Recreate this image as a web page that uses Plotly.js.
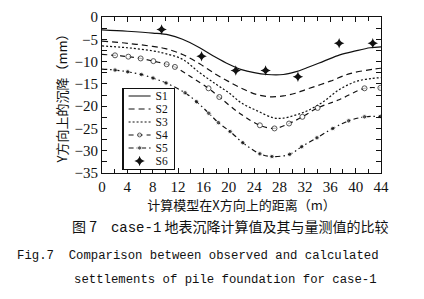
<!DOCTYPE html>
<html>
<head>
<meta charset="utf-8">
<script src="https://cdn.plot.ly/plotly-3.0.1.min.js"></script>
<style>html,body{margin:0;padding:0;background:#fff;}#chart{width:424px;height:299px;}</style>
</head>
<body>
<div id="chart"></div>
<script>
// ---- data ----
const s1x = [0, 4, 8, 10.5, 12.7, 15.4, 18, 20, 22, 24, 26, 28.6, 30.5, 32.3, 35, 37.5, 40, 42.3, 44];
const s1y = [-2.9, -3.2, -3.6, -4.0, -5.0, -6.9, -9.1, -10.6, -11.8, -12.5, -12.9, -12.9, -12.3, -11.4, -9.9, -8.5, -7.6, -6.9, -6.7];

const s2x = [0, 4, 8, 10, 12.7, 15.4, 18, 20, 22, 24.4, 26.5, 28.6, 30.5, 32.3, 36, 39.1, 42.8, 44];
const s2y = [-5.4, -5.9, -6.6, -7.1, -8.4, -10.5, -12.9, -14.5, -16.0, -17.4, -17.9, -17.7, -17.1, -16.2, -14.4, -12.7, -11.7, -11.5];

const s3x = [0, 4, 8, 10, 12.7, 15.4, 18, 20, 22, 24.4, 27, 28.6, 30.5, 32.3, 34.9, 37.5, 40.2, 42.5, 44];
const s3y = [-6.5, -6.9, -7.6, -8.2, -9.5, -12.5, -15.1, -17.0, -19.3, -21.0, -22.6, -22.7, -22.0, -21.1, -19.0, -16.2, -14.4, -13.8, -13.6];

const s4x = [0, 2.05, 4.15, 6.1, 8.1, 10.2, 11.5, 14, 16.8, 18.5, 21.8, 24.9, 27.2, 29.5, 31.6, 34.0, 37.5, 41.4, 43.9];
const s4y = [-8.4, -8.6, -8.9, -9.3, -9.9, -10.6, -11.2, -13.4, -16.0, -17.95, -21.7, -24.3, -25.0, -23.9, -22.4, -20.4, -18.5, -16.0, -15.9];
const s4marked = [0, 1, 1, 1, 1, 1, 1, 0, 1, 1, 0, 1, 1, 1, 1, 1, 0, 1, 1];

const s5x = [0, 2.05, 4.05, 6.2, 8.05, 10.1, 13.1, 14.9, 16.85, 18.35, 20.2, 22.2, 24.9, 26.8, 29.6, 31.5, 33.9, 36.4, 38.9, 41.4, 43.9];
const s5y = [-11.7, -11.9, -12.3, -12.9, -13.7, -14.8, -17.0, -19.0, -21.6, -23.7, -25.7, -28.2, -30.7, -31.3, -30.8, -29.1, -27.1, -25.0, -23.3, -22.4, -22.3];
const s5marked = [0, 1, 1, 1, 1, 1, 1, 1, 1, 1, 1, 1, 1, 1, 1, 1, 1, 1, 1, 1, 1];

const s6x = [9.4, 15.7, 21.1, 25.8, 30.9, 37.4, 42.7];
const s6y = [-2.8, -8.8, -12.0, -12.0, -13.4, -5.9, -5.9];

const seriesNames = ['S1', 'S2', 'S3', 'S4', 'S5', 'S6'];
const xTickVals = [0, 4, 8, 12, 16, 20, 24, 28, 32, 36, 40, 44];
const yTickVals = [0, -5, -10, -15, -20, -25, -30, -35];

const xTitle = '计算模型在X方向上的距离（m）';
const yTitle = 'Y方向上的沉降（mm）';
const caption1 = '图 7　<span style="font-family:\'Liberation Mono\'">case-1</span> 地表沉降计算值及其与量测值的比较';
const caption2 = 'Fig.7  Comparison between observed and calculated';
const caption3 = 'settlements of pile foundation for case-1';

// ---- traces ----
const black = '#111';
const traces = [
  {x: s1x, y: s1y, name: seriesNames[0], mode: 'lines', line: {color: black, width: 1.2, shape: 'spline'}},
  {x: s2x, y: s2y, name: seriesNames[1], mode: 'lines', line: {color: black, width: 1.2, shape: 'spline', dash: '6px,4px'}},
  {x: s3x, y: s3y, name: seriesNames[2], mode: 'lines', line: {color: black, width: 1.2, shape: 'spline', dash: '2px,2px'}},
  {x: s4x, y: s4y, name: seriesNames[3], mode: 'lines+markers',
   line: {color: black, width: 1.2, shape: 'spline', dash: '5px,4px'},
   marker: {symbol: 'circle', color: '#fff', size: s4marked.map(m => m ? 5 : 0), line: {color: black, width: 1}}},
  {x: s5x, y: s5y, name: seriesNames[4], mode: 'lines+markers',
   line: {color: black, width: 1.2, shape: 'spline', dash: '5px,3px,1.5px,3px'},
   marker: {symbol: 'circle', color: black, size: s5marked.map(m => m ? 4.5 : 0)}},
  {x: s6x, y: s6y, name: seriesNames[5], mode: 'markers',
   marker: {symbol: 'star-diamond', color: black, size: 7.5}}
];

const serif = "'Liberation Serif', 'Times New Roman', serif";
const cjk = "'Noto Sans CJK SC', sans-serif";
const mono = "'Liberation Mono', monospace";

const layout = {
  width: 424, height: 299,
  margin: {l: 102, r: 43, t: 17, b: 126},
  paper_bgcolor: '#fff', plot_bgcolor: '#fff',
  showlegend: true,
  legend: {
    x: 0.072, y: 0.545, xanchor: 'left', yanchor: 'top',
    bgcolor: '#fff', bordercolor: black, borderwidth: 1.5,
    font: {family: serif, size: 11.5, color: black},
    tracegroupgap: 0, itemwidth: 30
  },
  xaxis: {
    range: [0, 44], tickvals: xTickVals, ticktext: xTickVals.map(String),
    ticks: 'inside', ticklen: 5, tickwidth: 1, tickcolor: black,
    minor: {dtick: 2, ticks: 'inside', ticklen: 4, tickcolor: black},
    showline: true, linecolor: black, linewidth: 1, mirror: 'allticks',
    showgrid: false, zeroline: false,
    tickfont: {family: serif, size: 15, color: black},
    title: {text: xTitle, font: {family: cjk, size: 13, color: black}, standoff: 2}
  },
  yaxis: {
    range: [-35, 0], tickvals: yTickVals, ticktext: yTickVals.map(v => v === 0 ? '0' : '\u2212' + Math.abs(v)),
    ticks: 'inside', ticklen: 5, tickwidth: 1, tickcolor: black,
    minor: {dtick: 2.5, ticks: 'inside', ticklen: 5, tickcolor: black},
    showline: true, linecolor: black, linewidth: 1, mirror: 'allticks',
    showgrid: false, zeroline: false,
    tickfont: {family: serif, size: 15, color: black},
    title: {text: yTitle, font: {family: cjk, size: 13, color: black}, standoff: 3}
  },
  annotations: [
    {text: caption1, xref: 'paper', yref: 'paper', x: 0.46, y: -0.34, xanchor: 'center', yanchor: 'middle', showarrow: false,
     font: {family: cjk, size: 14, color: black}},
    {text: caption2, xref: 'paper', yref: 'paper', x: 0.344, y: -0.532, xanchor: 'center', yanchor: 'middle', showarrow: false,
     font: {family: mono, size: 12.3, color: black}},
    {text: caption3, xref: 'paper', yref: 'paper', x: 0.444, y: -0.686, xanchor: 'center', yanchor: 'middle', showarrow: false,
     font: {family: mono, size: 12.3, color: black}}
  ]
};

Plotly.newPlot('chart', traces, layout, {displayModeBar: false, staticPlot: true}).then(gd => {
  // compact the legend (row spacing and sample width) to match the reference box
  const leg = gd.querySelector('.legend');
  if (!leg) return;
  const items = leg.querySelectorAll('.traces');
  const step = 13, first = 8, shrink = 8;
  items.forEach((it, i) => {
    const m = /translate\(\s*([-\d.]+)[ ,]+([-\d.]+)\s*\)/.exec(it.getAttribute('transform') || '');
    const tx = m ? m[1] : 0;
    it.setAttribute('transform', 'translate(' + tx + ',' + (first + i * step) + ')');
    it.querySelectorAll('.legendlines path').forEach(p => p.setAttribute('d', 'M5,0h' + (30 - shrink)));
    it.querySelectorAll('.legendpoints path').forEach(p => {
      const t = p.getAttribute('transform') || '';
      const mm = /translate\(\s*([-\d.]+)[ ,]+([-\d.]+)\s*\)/.exec(t);
      if (mm) p.setAttribute('transform', 'translate(' + (parseFloat(mm[1]) - shrink / 2) + ',' + mm[2] + ')');
    });
    it.querySelectorAll('text.legendtext').forEach(tEl => {
      const x = parseFloat(tEl.getAttribute('x'));
      if (!isNaN(x)) tEl.setAttribute('x', x - shrink);
      tEl.querySelectorAll('tspan[x]').forEach(ts => {
        const xs = parseFloat(ts.getAttribute('x'));
        if (!isNaN(xs)) ts.setAttribute('x', xs - shrink);
      });
    });
  });
  const h = first * 2 + (items.length - 1) * step;
  leg.querySelectorAll('rect.bg').forEach(r => {
    r.setAttribute('height', h);
    const w = parseFloat(r.getAttribute('width'));
    if (!isNaN(w)) r.setAttribute('width', w - shrink);
  });
});
</script>
</body>
</html>
